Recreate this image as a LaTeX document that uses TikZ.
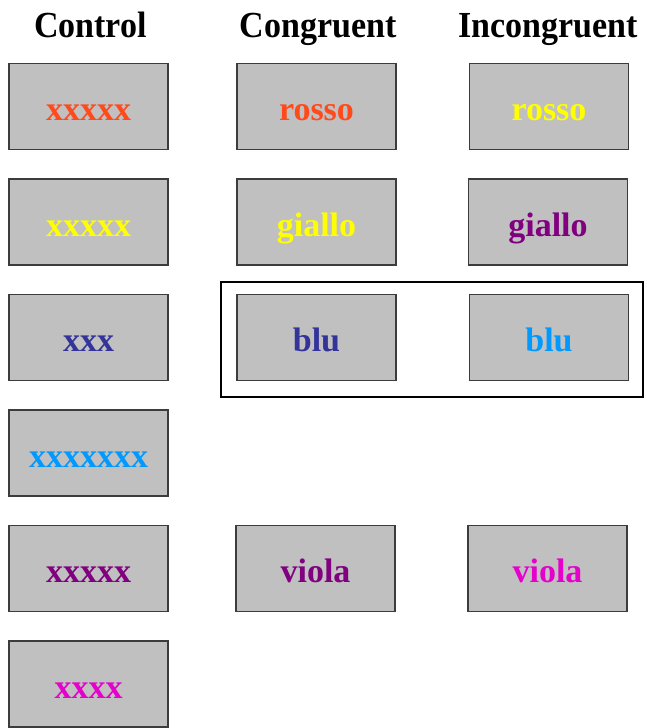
\documentclass[tikz,border=0pt]{standalone}
\usepackage{fontspec}
\setmainfont{Liberation Serif}
\definecolor{tilefill}{HTML}{C0C0C0}
\definecolor{tileline}{HTML}{3C3C3C}
\definecolor{wRed}{HTML}{FF4A1C}
\definecolor{wYellow}{HTML}{FFFF00}
\definecolor{wNavy}{HTML}{333399}
\definecolor{wSky}{HTML}{0099FF}
\definecolor{wPurple}{HTML}{800080}
\definecolor{wMagenta}{HTML}{E600CC}
\tikzset{
  tile/.style={draw=tileline, fill=tilefill, line width=1.8pt,
    minimum width=159pt, minimum height=86pt, inner sep=0pt},
  word/.style={anchor=base, inner sep=0pt,
    font=\bfseries\fontsize{34}{40}\selectfont},
  heading/.style={anchor=base, inner sep=0pt, text=black,
    font=\bfseries\fontsize{34}{40}\selectfont},
}
\begin{document}
\begin{tikzpicture}[x=1pt, y=-1pt]
\useasboundingbox (0,0) rectangle (646,728);

% column headings
\node[heading] (hCtrl) at (90.5,37) {\scalebox{1}[1.08]{Control}};
\node[heading] (hCong) at (318,37) {\scalebox{1}[1.08]{Congruent}};
\node[heading] (hInc)  at (548,37) {\scalebox{1}[1.08]{Incongruent}};

% control column
\node[tile] (c1) at (88.5,106.5) {};
\node[tile] (c2) at (88.5,222) {};
\node[tile] (c3) at (88.5,337.5) {};
\node[tile] (c4) at (88.5,453) {};
\node[tile] (c5) at (88.5,568.5) {};
\node[tile] (c6) at (88.5,684) {};
\node[word, text=wRed]     at ([yshift=-58pt]c1.north) {xxxxx};
\node[word, text=wYellow]  at ([yshift=-58pt]c2.north) {xxxxx};
\node[word, text=wNavy]    at ([yshift=-58pt]c3.north) {xxx};
\node[word, text=wSky]     at ([yshift=-58pt]c4.north) {xxxxxxx};
\node[word, text=wPurple]  at ([yshift=-58pt]c5.north) {xxxxx};
\node[word, text=wMagenta] at ([yshift=-58pt]c6.north) {xxxx};

% congruent column
\node[tile] (g1) at (316.5,106.5) {};
\node[tile] (g2) at (316.5,222) {};
\node[tile] (g3) at (316.5,337.5) {};
\node[tile] (g5) at (315.5,568.5) {};
\node[word, text=wRed]    at ([yshift=-58pt]g1.north) {rosso};
\node[word, text=wYellow] at ([yshift=-58pt]g2.north) {giallo};
\node[word, text=wNavy]   at ([yshift=-58pt]g3.north) {blu};
\node[word, text=wPurple] at ([yshift=-58pt]g5.north) {viola};

% incongruent column
\node[tile] (i1) at (549,106.5) {};
\node[tile] (i2) at (548,222) {};
\node[tile] (i3) at (549,337.5) {};
\node[tile] (i5) at (547.5,568.5) {};
\node[word, text=wYellow]  at ([yshift=-58pt]i1.north) {rosso};
\node[word, text=wPurple]  at ([yshift=-58pt]i2.north) {giallo};
\node[word, text=wSky]     at ([yshift=-58pt]i3.north) {blu};
\node[word, text=wMagenta] at ([yshift=-58pt]i5.north) {viola};

% frame around the blu pair
\coordinate (frameA) at ([shift={(-15,-12)}]g3.north west);
\coordinate (frameB) at ([shift={(14,16)}]i3.south east);
\draw[line width=2pt, black] (frameA) rectangle (frameB);
\end{tikzpicture}
\end{document}
